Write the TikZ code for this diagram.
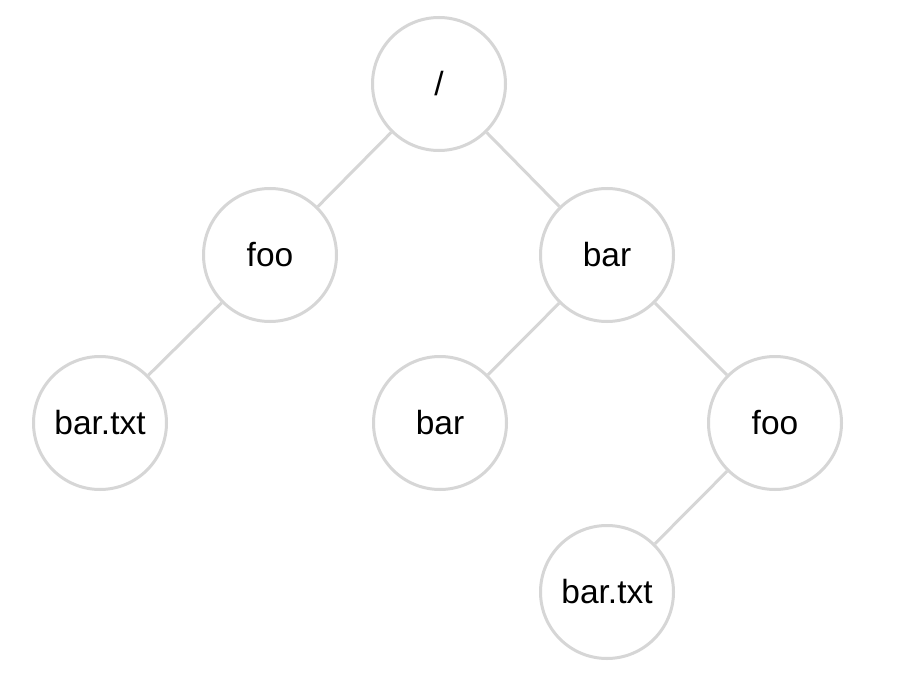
\documentclass[tikz,border=0pt]{standalone}
\usepackage{fontspec}
\setmainfont{Liberation Sans}
\begin{document}
\begin{tikzpicture}[x=1pt,y=-1pt,
  tnode/.style={circle,draw=edgegray,line width=3pt,minimum size=133pt,inner sep=0pt,font=\fontsize{33.5}{40}\selectfont,fill=white},
  tedge/.style={draw=edgegray,line width=3pt}]
\definecolor{edgegray}{HTML}{D6D6D6}
\useasboundingbox (0,0) rectangle (902,674);
\node[tnode] (root) at (439,84) {/};
\node[tnode] (foo) at (270,255) {foo};
\node[tnode] (bar) at (607,255) {bar};
\node[tnode] (bartxt) at (100,423) {bar.txt};
\node[tnode] (barb) at (440,423) {bar};
\node[tnode] (foob) at (775,423) {foo};
\node[tnode] (bartxtb) at (607,592) {bar.txt};
\draw[tedge] (root) -- (foo);
\draw[tedge] (root) -- (bar);
\draw[tedge] (foo) -- (bartxt);
\draw[tedge] (bar) -- (barb);
\draw[tedge] (bar) -- (foob);
\draw[tedge] (foob) -- (bartxtb);
\end{tikzpicture}
\end{document}
